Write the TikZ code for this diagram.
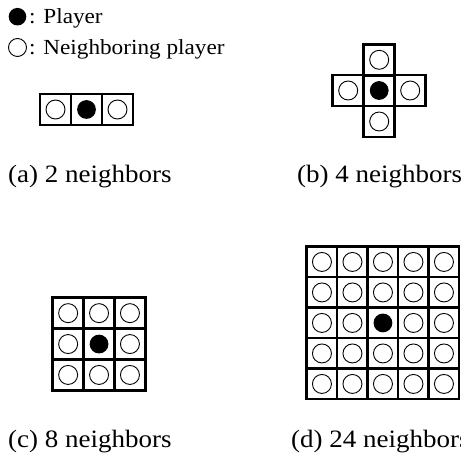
\documentclass[tikz,border=0pt]{standalone}
\usepackage{fontspec}
\setmainfont{Liberation Serif}[FakeStretch=1.08]
\usetikzlibrary{positioning}

\tikzset{
  cell/.style={draw, line width=2.5pt},
  nbr/.style={draw, line width=0.9pt},
  plr/.style={fill=black},
  legend/.style={anchor=base west, inner sep=0pt, font=\fontsize{21.5}{24}\selectfont},
  caption/.style={anchor=base west, inner sep=0pt, font=\fontsize{25}{28}\selectfont},
}

\begin{document}
\begin{tikzpicture}[x=1pt,y=-1pt]
  \useasboundingbox (0,0) rectangle (461,457);

  % Legend
  \fill[plr] (17.5,16.7) circle (8.8pt);
  \node[legend] (lgplr) at (29,24) {: Player};
  \draw[nbr] (17.5,47.5) circle (9pt);
  \node[legend] (lgnbr) at (29,55) {: Neighboring player};

  % (a) 2 neighbors
  \foreach \c in {0,1,2}
    \draw[cell] ({40+31*\c},94) rectangle +(31,31);
  \draw[nbr] (55.5,109.5) circle (9.5pt);
  \fill[plr] (86.5,109.5) circle (9.4pt);
  \draw[nbr] (117.5,109.5) circle (9.5pt);
  \node[caption] (capa) at (8,183) {(a) 2 neighbors};

  % (b) 4 neighbors
  \foreach \x/\y in {363.7/44.3, 332.7/75, 363.7/75, 394.7/75, 363.7/106}
    \draw[cell] (\x,\y) rectangle +(31,31);
  \foreach \x/\y in {379.2/59.8, 348.2/90.5, 410.2/90.5, 379.2/121.5}
    \draw[nbr] (\x,\y) circle (9.5pt);
  \fill[plr] (379.2,90.5) circle (9.4pt);
  \node[caption] (capb) at (297,183) {(b) 4 neighbors};

  % (c) 8 neighbors
  \foreach \r in {0,1,2}
    \foreach \c in {0,1,2} {
      \draw[cell] ({52.7+30.9*\c},{297.7+30.9*\r}) rectangle +(30.9,30.9);
      \ifnum\numexpr\r*10+\c\relax=11
        \fill[plr] ({68.15+30.9*\c},{313.15+30.9*\r}) circle (9.4pt);
      \else
        \draw[nbr] ({68.15+30.9*\c},{313.15+30.9*\r}) circle (9.5pt);
      \fi
    }
  \node[caption] (capc) at (8,447) {(c) 8 neighbors};

  % (d) 24 neighbors
  \foreach \r in {0,...,4}
    \foreach \c in {0,...,4} {
      \draw[cell] ({306.7+30.5*\c},{246.7+30.5*\r}) rectangle +(30.5,30.5);
      \ifnum\numexpr\r*10+\c\relax=22
        \fill[plr] ({321.95+30.5*\c},{261.95+30.5*\r}) circle (9.4pt);
      \else
        \draw[nbr] ({321.95+30.5*\c},{261.95+30.5*\r}) circle (9.5pt);
      \fi
    }
  \node[caption] (capd) at (291,447) {(d) 24 neighbors};
\end{tikzpicture}
\end{document}
